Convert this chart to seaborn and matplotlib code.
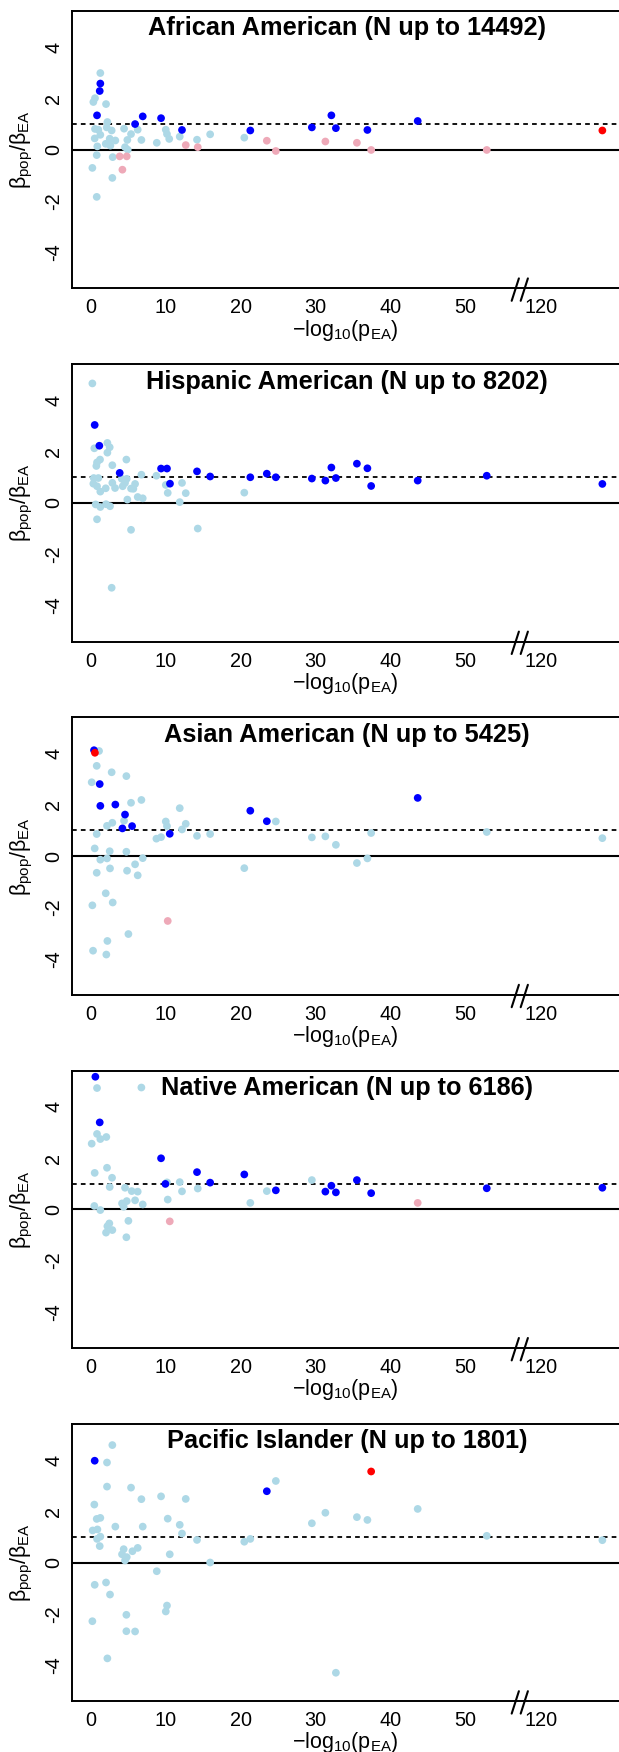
import matplotlib
matplotlib.use("Agg")
import matplotlib.pyplot as plt
import seaborn as sns
import pandas as pd
import numpy as np

# panel titles
titles = ['African American (N up to 14492)',
          'Hispanic American (N up to 8202)',
          'Asian American (N up to 5425)',
          'Native American (N up to 6186)',
          'Pacific Islander (N up to 1801)']

# x = -log10(p_EA), y = beta_pop / beta_EA
# groups: L = light blue, B = blue, P = pink, R = red
aa_x = [1.32, 0.61, 0.39, 2.08, 2.26, 0.61, 1.06, 2.17, 2.83, 1.32, 0.57, 2.57,
        3.32, 2.04, 2.66, 0.92, 0.84, 2.97, 0.26, 2.92, 0.84, 4.48, 5.41, 6.3,
        4.92, 4.61, 4.97, 6.79, 8.84, 10.04, 10.2, 10.5, 11.9, 14.2, 15.95, 20.5,
        1.32, 1.24, 0.88, 5.95, 6.97, 9.41, 12.2, 21.3, 29.5, 32.1, 32.7, 36.9, 43.6,
        3.9, 4.84, 4.26, 12.7, 14.3, 23.5, 24.7, 31.3, 35.5, 37.4, 52.8,
        128.2]
aa_y = [2.99, 2.01, 1.86, 1.78, 1.08, 0.81, 0.78, 0.87, 0.75, 0.58, 0.44, 0.43,
        0.36, 0.23, 0.16, 0.13, -0.21, -0.29, -0.71, -1.10, -1.84, 0.82, 0.61, 0.78,
        0.38, 0.10, 0.0, 0.38, 0.27, 0.78, 0.61, 0.42, 0.51, 0.39, 0.60, 0.47,
        2.58, 2.29, 1.34, 1.0, 1.30, 1.23, 0.77, 0.75, 0.87, 1.34, 0.84, 0.77, 1.12,
        -0.26, -0.26, -0.78, 0.18, 0.10, 0.35, -0.05, 0.32, 0.27, -0.01, -0.01,
        0.75]
aa_grp = ['L'] * 36 + ['B'] * 13 + ['P'] * 11 + ['R']

ha_x = [0.26, 0.52, 2.26, 2.57, 2.26, 1.28, 0.88, 0.79, 2.92, 4.79, 6.79, 8.79,
        10.04, 10.3, 12.2, 12.7, 11.9, 14.3, 0.44, 1.06, 0.39, 0.88, 1.32, 2.04,
        2.92, 3.28, 4.17, 4.61, 4.84, 4.30, 5.95, 5.72, 5.41, 4.92, 6.3, 6.97,
        0.7, 1.32, 2.08, 2.61, 0.88, 5.41, 2.83, 20.5,
        0.57, 1.19, 3.9, 9.41, 10.2, 10.6, 14.2, 15.95, 21.3, 23.5, 24.7, 29.5,
        31.3, 32.1, 32.7, 35.5, 36.9, 37.4, 43.6, 52.8, 128.2]
ha_y = [4.66, 2.13, 2.34, 2.17, 1.96, 1.69, 1.58, 1.44, 1.47, 1.69, 1.10, 1.06,
        0.70, 0.39, 0.78, 0.38, 0.03, -1.0, 0.97, 0.97, 0.75, 0.65, 0.44, 0.57,
        0.78, 0.58, 0.94, 0.78, 0.94, 0.65, 0.74, 0.55, 0.56, 0.13, 0.23, 0.18,
        -0.06, -0.16, -0.05, -0.13, -0.64, -1.05, -3.31, 0.40,
        3.04, 2.23, 1.17, 1.34, 1.34, 0.75, 1.23, 1.03, 1.0, 1.14, 1.0, 0.95,
        0.87, 1.38, 0.97, 1.53, 1.35, 0.66, 0.87, 1.06, 0.74]
ha_grp = ['L'] * 44 + ['B'] * 21

as_x = [1.15, 0.84, 2.83, 4.79, 0.17, 5.41, 6.79, 4.48, 2.92, 2.21, 0.84, 0.57,
        2.57, 4.79, 1.32, 2.21, 6.97, 0.84, 2.61, 4.88, 5.95, 6.3, 2.04, 2.97,
        0.26, 5.06, 2.26, 0.35, 2.12, 8.79, 9.41, 10.04, 10.2, 11.9, 12.2, 12.7,
        14.2, 15.95, 20.5, 24.7, 29.5, 31.3, 32.7, 35.5, 36.9, 37.4, 52.8, 128.2,
        0.48, 1.24, 1.32, 3.32, 4.61, 4.26, 5.55, 10.57, 21.3, 23.5, 43.6,
        10.3,
        0.6]
as_y = [4.10, 3.52, 3.27, 3.12, 2.88, 2.08, 2.19, 1.38, 1.30, 1.18, 0.86, 0.30,
        0.19, 0.17, -0.14, -0.09, -0.08, -0.65, -0.48, -0.57, -0.32, -0.75, -1.45, -1.81,
        -1.92, -3.04, -3.31, -3.69, -3.84, 0.68, 0.74, 1.35, 1.17, 1.87, 1.04, 1.26,
        0.79, 0.86, -0.47, 1.35, 0.73, 0.77, 0.44, -0.27, -0.09, 0.90, 0.94, 0.70,
        4.13, 2.81, 1.96, 2.01, 1.62, 1.08, 1.17, 0.87, 1.77, 1.36, 2.27,
        -2.53,
        4.03]
as_grp = ['L'] * 48 + ['B'] * 11 + ['P'] + ['R']

na_x = [0.88, 6.79, 0.88, 1.32, 2.12, 0.17, 2.21, 0.57, 2.88, 2.57, 10.2, 4.61,
        5.5, 6.3, 4.21, 4.84, 4.43, 5.95, 6.97, 0.52, 1.32, 2.52, 2.26, 2.92,
        2.08, 5.06, 4.79, 10.3, 11.9, 12.2, 14.3, 21.3, 23.5, 29.5,
        0.66, 1.24, 9.41, 9.99, 14.2, 15.95, 20.5, 24.7, 31.3, 32.1, 32.7, 35.5,
        37.4, 52.8, 128.2,
        10.57, 43.6]
na_y = [4.73, 4.75, 2.94, 2.74, 2.82, 2.56, 1.62, 1.42, 1.23, 0.87, 1.05, 0.84,
        0.71, 0.69, 0.23, 0.32, 0.10, 0.35, 0.19, 0.13, -0.03, -0.55, -0.66, -0.81,
        -0.91, -0.45, -1.09, 0.38, 1.06, 0.70, 0.81, 0.25, 0.71, 1.14,
        5.17, 3.39, 1.99, 0.99, 1.45, 1.04, 1.36, 0.74, 0.69, 0.92, 0.66, 1.14,
        0.63, 0.82, 0.84,
        -0.47, 0.25]
na_grp = ['L'] * 34 + ['B'] * 15 + ['P'] * 2

pi_x = [2.92, 2.21, 2.21, 5.41, 0.52, 6.79, 9.41, 12.7, 0.84, 1.32, 10.3, 11.9,
        3.32, 6.97, 0.30, 0.93, 12.2, 1.32, 0.88, 14.2, 1.24, 4.43, 6.3, 5.6,
        4.21, 4.84, 4.61, 10.57, 15.95, 8.84, 0.57, 2.08, 2.61, 10.2, 10.04, 4.79,
        0.26, 4.79, 5.95, 2.26, 20.5, 21.3, 24.7, 29.5, 31.3, 32.7, 35.5, 36.9,
        43.6, 52.8, 128.2,
        0.57, 23.5,
        37.4]
pi_y = [4.58, 3.90, 2.96, 2.92, 2.26, 2.47, 2.58, 2.48, 1.70, 1.74, 1.71, 1.47,
        1.40, 1.40, 1.25, 1.29, 1.13, 1.01, 0.92, 0.88, 0.64, 0.52, 0.57, 0.44,
        0.32, 0.21, 0.08, 0.32, 0.0, -0.34, -0.87, -0.78, -1.25, -1.68, -1.91, -2.04,
        -2.29, -2.68, -2.69, -3.74, 0.81, 0.92, 3.18, 1.53, 1.94, -4.30, 1.77, 1.66,
        2.09, 1.04, 0.87,
        3.97, 2.78,
        3.55]
pi_grp = ['L'] * 51 + ['B'] * 2 + ['R']

xs = [aa_x, ha_x, as_x, na_x, pi_x]
ys = [aa_y, ha_y, as_y, na_y, pi_y]
grps = [aa_grp, ha_grp, as_grp, na_grp, pi_grp]

palette = {'L': '#ADD8E6', 'B': '#0000FF', 'P': '#EEA9B8', 'R': '#FF0000'}
draw_order = {'L': 0, 'P': 1, 'B': 2, 'R': 3}


# broken x axis: values above the gap are shifted left by 60
def fwd(v):
    v = np.asarray(v, dtype=float)
    return np.where(v > 90, v - 60, v)


def inv(v):
    v = np.asarray(v, dtype=float)
    return np.where(v > 57, v + 60, v)


sns.set_style('white')
plt.rcParams['font.family'] = ['Liberation Sans', 'DejaVu Sans']
plt.rcParams['mathtext.fontset'] = 'custom'
plt.rcParams['mathtext.rm'] = 'Liberation Sans'
plt.rcParams['mathtext.it'] = 'Liberation Sans:italic'
plt.rcParams['mathtext.bf'] = 'Liberation Sans:bold'
plt.rcParams['axes.unicode_minus'] = False
plt.rcParams['text.color'] = 'black'
plt.rcParams['axes.labelcolor'] = 'black'

W, H = 619, 1752
fig = plt.figure(figsize=(W / 100, H / 100), dpi=100)

left_px, width_px = 71.5, 551.5
height_px = 277.4

for i in range(5):
    top_px = 11 + 353.2 * i
    ax = fig.add_axes([left_px / W, 1 - (top_px + height_px) / H,
                       width_px / W, height_px / H])
    ax.set_xscale('function', functions=(fwd, inv))

    df = pd.DataFrame({'x': xs[i], 'y': ys[i], 'grp': grps[i]})
    df['rank'] = df['grp'].map(draw_order)
    df = df.sort_values('rank', kind='stable')

    ax.axhline(0, color='black', lw=1.5, zorder=1)
    ax.axhline(1, color='black', lw=1.3, ls=(0, (2.6, 2.3)), zorder=1)

    sns.scatterplot(data=df, x='x', y='y', hue='grp', palette=palette,
                    s=31, linewidth=0, legend=False, ax=ax, zorder=3)

    ax.set_xlim(-2.52, 130.95)
    ax.set_ylim(-5.41, 5.41)
    ax.set_xticks([0, 10, 20, 30, 40, 50, 120])
    ax.set_xticklabels(['0', '10', '20', '30', '40', '50', '120'])
    ax.set_yticks([-4, -2, 0, 2, 4])
    ax.set_yticklabels(['-4', '-2', '0', '2', '4'])
    ax.minorticks_off()
    ax.tick_params(axis='both', direction='out', length=4.4, width=1.1,
                   labelsize=14.3, color='black', labelcolor='black')
    ax.tick_params(axis='x', pad=2.8)
    ax.tick_params(axis='y', pad=1.6, labelrotation=90)
    for lab in ax.get_yticklabels():
        lab.set_verticalalignment('center')

    for sp in ax.spines.values():
        sp.set_color('black')
        sp.set_linewidth(1.4)

    ax.text(0.5, 1 - 17.3 / height_px, titles[i], transform=ax.transAxes,
            ha='center', va='center', fontsize=18.3, fontweight='bold',
            color='black')

    ax.set_xlabel(r'$-\mathrm{log}_{10}(\mathrm{p}_{\mathrm{EA}})$', fontsize=15.5)
    ax.xaxis.set_label_coords(0.497, -41.7 / height_px)
    ax.xaxis.label.set_verticalalignment('center')
    ax.set_ylabel(r'$\mathrm{β}_{\mathrm{pop}}/\mathrm{β}_{\mathrm{EA}}$', fontsize=15.5)
    ax.yaxis.set_label_coords((21.7 - left_px) / width_px, 0.5)
    ax.yaxis.label.set_verticalalignment('center')

    # axis break marks "//"
    bx = ax.transAxes.inverted().transform(ax.transData.transform((57.2, 0)))[0]
    dx = 3.6 / width_px
    for off in (-4.5 / width_px, 4.5 / width_px):
        ax.plot([bx + off - dx, bx + off + dx],
                [-12.4 / height_px, 10 / height_px],
                transform=ax.transAxes, color='black', lw=1.5, clip_on=False)

fig.savefig('out.png', dpi=100)
